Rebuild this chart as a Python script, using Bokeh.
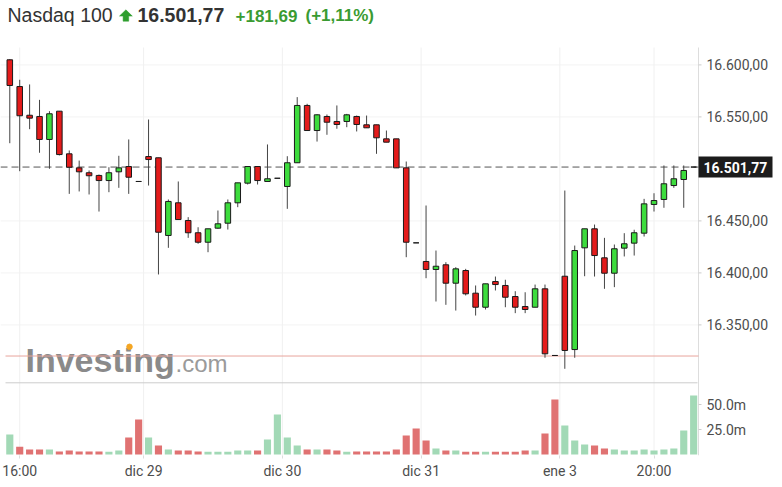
from bokeh.plotting import figure
from bokeh.models import Range1d, FixedTicker, ColumnDataSource
from bokeh.core.properties import value
from bokeh.embed import file_html
from bokeh.resources import INLINE

# ---- data (30-min bars) ----
opens = [16604.9, 16579.2, 16551.6, 16550.4, 16528.3, 16555.5, 16514.5, 16501.0, 16496.3, 16493.7,
         16488.8, 16497.2, 16502.3, 16487.9, 16511.9, 16510.7, 16436.0, 16467.4, 16450.4, 16438.6,
         16429.5, 16443.0, 16447.8, 16467.4, 16486.3, 16502.3, 16487.9, 16491.0, 16483.1, 16505.9,
         16561.0, 16536.9, 16550.4, 16545.6, 16545.6, 16550.4, 16542.4, 16542.4, 16528.9, 16528.9,
         16501.0, 16428.9, 16411.0, 16403.3, 16407.8, 16390.1, 16402.3, 16380.5, 16367.0, 16391.7,
         16387.9, 16377.3, 16367.7, 16367.0, 16384.7, 16320.6, 16396.8, 16326.3, 16424.1, 16442.4,
         16414.5, 16399.7, 16423.8, 16428.6, 16438.2, 16465.8, 16470.6, 16484.0, 16489.8, 16501.77]
highs = [16605.5, 16585.7, 16581.2, 16566.4, 16555.5, 16555.5, 16517.7, 16508.0, 16498.5, 16494.6,
         16501.6, 16512.6, 16528.3, 16487.9, 16547.5, 16510.7, 16470.6, 16487.9, 16453.6, 16443.9,
         16442.4, 16460.0, 16470.6, 16486.6, 16502.3, 16502.3, 16523.5, 16491.0, 16512.2, 16569.0,
         16562.6, 16552.6, 16552.3, 16561.0, 16552.9, 16551.3, 16551.3, 16542.4, 16536.9, 16528.9,
         16507.1, 16428.9, 16464.8, 16421.5, 16410.3, 16405.5, 16403.9, 16387.9, 16389.5, 16396.5,
         16393.4, 16382.4, 16381.4, 16388.8, 16388.8, 16320.6, 16479.2, 16426.3, 16442.4, 16446.5,
         16433.7, 16427.3, 16438.2, 16441.5, 16471.2, 16476.6, 16503.3, 16503.3, 16503.3, 16501.77]
lows = [16524.7, 16497.8, 16538.2, 16515.5, 16500.1, 16512.9, 16476.0, 16478.3, 16475.4, 16459.0,
        16477.6, 16481.8, 16476.0, 16487.9, 16484.0, 16398.5, 16424.1, 16451.3, 16433.7, 16428.0,
        16419.9, 16442.4, 16441.7, 16463.2, 16485.0, 16485.0, 16487.9, 16491.0, 16461.6, 16505.9,
        16536.9, 16526.3, 16532.8, 16538.6, 16540.1, 16536.0, 16539.5, 16514.5, 16525.7, 16501.0,
        16415.1, 16428.9, 16394.9, 16372.5, 16369.3, 16363.8, 16378.3, 16359.0, 16364.8, 16383.1,
        16367.0, 16361.3, 16361.3, 16367.0, 16318.4, 16320.6, 16307.8, 16318.4, 16396.8, 16396.5,
        16384.7, 16386.3, 16415.8, 16416.7, 16435.0, 16459.0, 16462.6, 16481.8, 16462.6, 16501.77]
closes = [16580.2, 16551.1, 16548.8, 16528.3, 16553.0, 16513.8, 16501.6, 16497.2, 16493.4, 16488.8,
          16496.3, 16501.0, 16492.0, 16487.9, 16509.0, 16439.1, 16468.7, 16451.3, 16438.6, 16429.5,
          16442.4, 16447.2, 16467.4, 16486.6, 16502.3, 16488.8, 16490.5, 16491.0, 16505.9, 16561.0,
          16536.9, 16552.0, 16544.9, 16542.7, 16552.0, 16542.7, 16539.5, 16529.9, 16525.7, 16501.0,
          16429.5, 16428.9, 16403.3, 16406.4, 16390.1, 16403.9, 16379.9, 16367.0, 16389.5, 16388.8,
          16376.6, 16367.0, 16364.8, 16384.7, 16322.2, 16320.6, 16325.4, 16421.5, 16442.4, 16416.7,
          16399.7, 16423.2, 16428.0, 16438.6, 16466.4, 16469.6, 16485.7, 16490.5, 16498.5, 16501.77]
volumes = [20, 7.7, 5, 5, 5, 3, 4, 3, 3, 3,
           2.7, 4, 17, 35, 17, 9, 5, 4, 4, 3,
           2.7, 2.7, 2.7, 4, 4, 4, 15, 40, 17, 9,
           5, 5, 5, 4, 2.7, 3, 3, 3, 3, 5,
           19, 26, 14, 6, 4, 4, 2.7, 2.7, 2.7, 2.7,
           2.7, 2.7, 4, 4, 21, 55, 29, 14, 10, 9,
           6, 5, 4, 4, 5, 4, 5, 6, 24, 59]  # millions

x_tick_pos = [1, 13.5, 27.5, 41.5, 55.5, 65]
x_tick_labels = ["16:00", "dic 29", "dic 30", "dic 31", "ene 3", "20:00"]
price_ticks = [16350, 16400, 16450, 16550, 16600]
price_tick_labels = ["16.350,00", "16.400,00", "16.450,00", "16.550,00", "16.600,00"]
vol_ticks = [25, 50]
vol_tick_labels = ["25.0m", "50.0m"]

prev_close = 16320.08
last_price = 16501.77
last_price_label = "16.501,77"
title_name = "Nasdaq 100"
title_price = "16.501,77"
title_change = "+181,69"
title_pct = "(+1,11%)"

# ---- styles / geometry ----
RED = "#e41b1b"
GREEN = "#3ddc3d"
VRED = "#e07272"
VGREEN = "#a2d9b6"
AXIS_FONT = "Roboto"
LABEL_COLOR = "#4d4d4d"
W, H = 780, 483
FRAME_BOTTOM = 455          # px: bottom of chart area (above x labels)
PANEL_TOP = 47              # px: top of price panel
AXIS_PX = 698               # px: right axis line
PXB = 9.911                 # px per bar
X0 = -0.938                 # bar index at left edge
AXIS_X = X0 + AXIS_PX / PXB

n = len(closes)
idx = list(range(n))
fill = [GREEN if c > o else (RED if c < o else "#333333") for o, c in zip(opens, closes)]
vcol = [VGREEN if (i == 0 or closes[i] >= closes[i - 1]) else VRED for i in range(n)]
src = ColumnDataSource(dict(
    x=idx, high=highs, low=lows,
    top=[max(o, c) for o, c in zip(opens, closes)],
    bot=[min(o, c) for o, c in zip(opens, closes)],
    fill=fill, vol=volumes, vcol=vcol))

# price scale: 1.04 px per point, 16500 at px 168.4
def price_at(py):
    return 16500 + (168.4 - py) / 1.04

p = figure(width=W, height=H, x_range=Range1d(X0, X0 + W / PXB),
           y_range=Range1d(price_at(FRAME_BOTTOM), price_at(0)),
           toolbar_location=None, output_backend="svg", y_axis_location=None,
           min_border_left=0, min_border_right=0, min_border_top=0, min_border_bottom=H - FRAME_BOTTOM,
           outline_line_color=None, background_fill_color="white", border_fill_color="white")
p.extra_y_ranges = {"vol": Range1d(-1, FRAME_BOTTOM - 1), "page": Range1d(FRAME_BOTTOM, 0)}
p.extra_x_ranges = {"px": Range1d(0, W)}
p.xgrid.visible = False
p.ygrid.visible = False

# x axis (dates)
p.xaxis.ticker = FixedTicker(ticks=x_tick_pos)
p.xaxis.major_label_overrides = {tk: lb for tk, lb in zip(x_tick_pos, x_tick_labels)}
p.xaxis.major_label_text_font = AXIS_FONT
p.xaxis.major_label_text_font_size = "14px"
p.xaxis.major_label_text_color = LABEL_COLOR
p.xaxis.axis_line_color = None
p.xaxis.major_tick_line_color = "#dddddd"
p.xaxis.major_tick_out = 3
p.xaxis.major_tick_in = 0
p.xaxis.minor_tick_line_color = None
p.xaxis.major_label_standoff = 4

# ---- title ----
TF = value("Liberation Sans")
p.text(x=[7], y=[14.5], text=[title_name], text_font=TF, text_font_size="19.5px",
       text_color="#333333", text_baseline="middle", x_range_name="px", y_range_name="page")
p.patch(x=[119, 125.4, 131.8, 128.2, 128.2, 122.6, 122.6], y=[15.6, 9.3, 15.6, 15.6, 20.7, 20.7, 15.6],
        color="#2f9e2f", line_width=0.5, x_range_name="px", y_range_name="page")
p.text(x=[137], y=[14.5], text=[title_price], text_font=TF, text_font_style="bold",
       text_font_size="19.5px", text_color="#333333", text_baseline="middle",
       x_range_name="px", y_range_name="page")
p.text(x=[235, 305], y=[15.4, 15.4], text=[title_change, title_pct], text_font=TF,
       text_font_style="bold", text_font_size="17px", text_color="#3a9b32", text_baseline="middle",
       x_range_name="px", y_range_name="page")

# ---- grid, axis lines ----
p.segment(x0=[X0] * len(price_ticks), x1=[AXIS_X] * len(price_ticks), y0=price_ticks, y1=price_ticks,
          line_color="#f3f3f3", line_width=1)
p.segment(x0=x_tick_pos, x1=x_tick_pos, y0=[PANEL_TOP] * len(x_tick_pos),
          y1=[FRAME_BOTTOM + 3] * len(x_tick_pos), line_color="#f0f0f0", line_width=1,
          y_range_name="page")
p.segment(x0=[AXIS_X], x1=[AXIS_X], y0=[PANEL_TOP], y1=[FRAME_BOTTOM], line_color="#dddddd",
          line_width=1, y_range_name="page")

# watermark
p.text(x=[25], y=[359.2], text=["Investing"], text_font=TF, text_font_style="bold",
       text_font_size="34px", text_color="#8a8a8a", text_baseline="middle",
       x_range_name="px", y_range_name="page")
p.text(x=[175], y=[363.3], text=[".com"], text_font=TF, text_font_size="24px",
       text_color="#9a9a9a", text_baseline="middle", x_range_name="px", y_range_name="page")
p.scatter(x=[129], y=[346.3], size=5.5, color="#f5a623", x_range_name="px", y_range_name="page")

# separator between panels
p.segment(x0=[5], x1=[AXIS_PX - 1], y0=[382.3], y1=[382.3], line_color="#cccccc", line_width=1,
          x_range_name="px", y_range_name="page")
# previous close & last price lines
p.segment(x0=[X0 + 5 / PXB], x1=[AXIS_X], y0=[prev_close], y1=[prev_close],
          line_color="#e8a49c", line_width=1)
p.segment(x0=[X0], x1=[AXIS_X], y0=[last_price], y1=[last_price],
          line_color="#555555", line_width=1, line_dash="7 4")

# ---- candles ----
p.segment(x0="x", y0="low", x1="x", y1="high", line_color="#444444", line_width=1, source=src)
p.vbar(x="x", top="top", bottom="bot", width=0.56, fill_color="fill",
       line_color="#1a1a1a", line_width=1, source=src)

# ---- price axis ticks & labels ----
p.segment(x0=[AXIS_X] * len(price_ticks), x1=[AXIS_X + 3 / PXB] * len(price_ticks),
          y0=price_ticks, y1=price_ticks, line_color="#cccccc", line_width=1)
p.text(x=[AXIS_X + 8 / PXB] * len(price_ticks), y=price_ticks, text=price_tick_labels,
       text_font=value(AXIS_FONT), text_font_size="14px", text_color=LABEL_COLOR,
       text_baseline="middle")
# last price marker
p.rect(x=[AXIS_X + 37 / PXB], y=[last_price], width=74 / PXB, height=21, height_units="screen",
       fill_color="#1c1c1c", line_color=None)
p.text(x=[AXIS_X + 5 / PXB], y=[last_price], text=[last_price_label], text_font=value(AXIS_FONT),
       text_font_style="bold", text_font_size="14px", text_color="white", text_baseline="middle")

# ---- volume ----
p.vbar(x="x", top="vol", bottom=0, width=0.72, fill_color="vcol", line_color=None,
       source=src, y_range_name="vol")
p.segment(x0=[AXIS_X] * len(vol_ticks), x1=[AXIS_X + 3 / PXB] * len(vol_ticks),
          y0=vol_ticks, y1=vol_ticks, line_color="#cccccc", line_width=1, y_range_name="vol")
p.text(x=[AXIS_X + 8 / PXB] * len(vol_ticks), y=vol_ticks, text=vol_tick_labels,
       text_font=value(AXIS_FONT), text_font_size="14px", text_color=LABEL_COLOR,
       text_baseline="middle", y_range_name="vol")

open("out.html", "w").write(file_html(p, INLINE))
